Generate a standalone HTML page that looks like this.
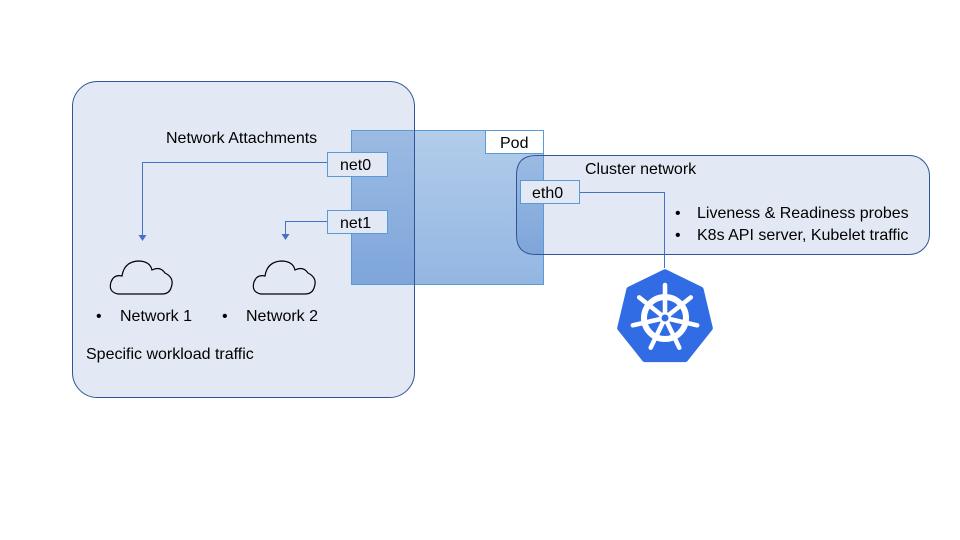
<!DOCTYPE html>
<html><head><meta charset="utf-8"><style>
body{margin:0;background:#fff}
svg{display:block}
text{font-family:"Liberation Sans",sans-serif;font-size:16px;fill:#000}
</style></head><body>
<svg width="960" height="540" viewBox="0 0 960 540">
<defs>
<linearGradient id="g1" x1="0" y1="0" x2="0" y2="1"><stop offset="0" stop-color="#b3cdea"/><stop offset="1" stop-color="#93b6e2"/></linearGradient>
<linearGradient id="g2" x1="0" y1="0" x2="0" y2="1"><stop offset="0" stop-color="#9cbbe3"/><stop offset="1" stop-color="#7ea5da"/></linearGradient>
</defs>
<rect x="72.5" y="81.5" width="342" height="316" rx="25" fill="#e3e9f4" stroke="#2f5597" stroke-width="1"/>
<rect x="516.5" y="155.5" width="413" height="99" rx="20" fill="#e3e9f4" stroke="#2f5597" stroke-width="1"/>
<rect x="351" y="130" width="193" height="155" fill="url(#g1)"/>
<rect x="351" y="130" width="63.5" height="155" fill="url(#g2)"/>
<path d="M544 155.5 L536 155.5 Q516.5 155.5 516.5 175 L516.5 235 Q516.5 254.5 536 254.5 L544 254.5 Z" fill="url(#g2)"/>
<rect x="351.5" y="130.5" width="192" height="154" fill="none" stroke="#5b9bd5" stroke-width="1"/>
<line x1="414.5" y1="130" x2="414.5" y2="285" stroke="#2f5597"/>
<path d="M544 155.5 L536 155.5 Q516.5 155.5 516.5 175 L516.5 235 Q516.5 254.5 536 254.5 L544 254.5" fill="none" stroke="#2f5597"/>
<rect x="485.5" y="130.5" width="58" height="23" fill="#fff" stroke="#5b9bd5"/>
<text x="500" y="148">Pod</text>
<rect x="327.5" y="152.5" width="60" height="24" fill="#e3e9f4" stroke="#5b9bd5"/>
<text x="340" y="170">net0</text>
<rect x="327.5" y="210.5" width="60" height="23" fill="#e3e9f4" stroke="#5b9bd5"/>
<text x="340" y="228">net1</text>
<rect x="520.5" y="180.5" width="59" height="23" fill="#e3e9f4" stroke="#5b9bd5"/>
<text x="532" y="198">eth0</text>
<path d="M327 162.5 H142.5 V236" fill="none" stroke="#4472c4"/>
<path d="M138.5 235 L146.5 235 L142.5 241 Z" fill="#4472c4"/>
<path d="M327 221.5 H285.5 V235" fill="none" stroke="#4472c4"/>
<path d="M281.5 234 L289.5 234 L285.5 240 Z" fill="#4472c4"/>
<path d="M580 192.5 H664.5 V268" fill="none" stroke="#4472c4"/>
<text x="166" y="143">Network Attachments</text>
<text x="585" y="174">Cluster network</text>
<text x="675" y="218">•</text><text x="697" y="218">Liveness &amp; Readiness probes</text>
<text x="675" y="240">•</text><text x="697" y="240">K8s API server, Kubelet traffic</text>
<text x="96" y="321">•</text><text x="120" y="321">Network 1</text>
<text x="222" y="321">•</text><text x="246" y="321">Network 2</text>
<text x="86" y="359">Specific workload traffic</text>
<g fill="none" stroke="#000" stroke-width="1.2">
<path d="M118 294 Q108 292 111 282 Q114 274 122 276 Q124 262 138 261 Q150 261 152 270 Q160 266 165 273 Q175 278 171 288 Q169 294 162 294 Z"/>
<path d="M261 294 Q251 292 254 282 Q257 274 265 276 Q267 262 281 261 Q293 261 295 270 Q303 266 308 273 Q318 278 314 288 Q312 294 305 294 Z"/>
</g>
<g transform="translate(665,318)">
<polygon points="0,-50 39,-31 49,11 22,45 -22,45 -49,11 -39,-31" fill="#326ce5" stroke="#326ce5" stroke-width="6" stroke-linejoin="round" transform="scale(0.92)"/>
<circle r="21" fill="none" stroke="#fff" stroke-width="6"/>
<g stroke="#fff" stroke-width="4.5" stroke-linecap="round">
<line x1="0" y1="0" x2="0" y2="-33"/>
<line x1="0" y1="0" x2="25.8" y2="-20.6"/>
<line x1="0" y1="0" x2="32.2" y2="7.3"/>
<line x1="0" y1="0" x2="14.3" y2="29.7"/>
<line x1="0" y1="0" x2="-14.3" y2="29.7"/>
<line x1="0" y1="0" x2="-32.2" y2="7.3"/>
<line x1="0" y1="0" x2="-25.8" y2="-20.6"/>
</g>
<circle r="6" fill="#fff"/>
<circle r="3.5" fill="#326ce5"/>
</g>
</svg>
</body></html>
